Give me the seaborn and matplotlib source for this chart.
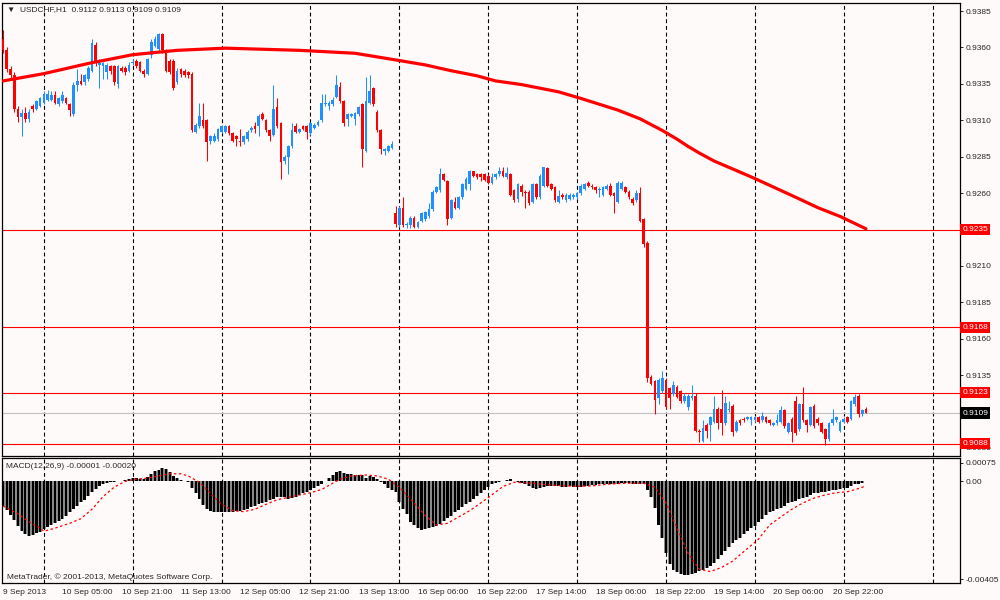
import numpy as np
import pandas as pd
import seaborn as sns
import matplotlib.pyplot as plt

sns.set_style('white')
plt.rcParams['font.family'] = ['Liberation Sans', 'DejaVu Sans']
plt.rcParams['font.size'] = 6

BG = '#FFFAFA'
BULL = '#1E90FF'
BEAR = '#FF0000'

# hourly bars, prices in pips (x 0.0001)
opens = [9366, 9358, 9345, 9341, 9318, 9312, 9315, 9311, 9320, 9318,
         9320, 9322, 9324, 9324, 9327, 9321, 9323, 9325, 9321, 9314,
         9334, 9337, 9336, 9338, 9344, 9362, 9348, 9347, 9343, 9347,
         9347, 9335, 9346, 9346, 9344, 9349, 9351, 9350, 9344, 9342,
         9355, 9361, 9359, 9369, 9358, 9351, 9351, 9336, 9345, 9344,
         9343, 9342, 9302, 9306, 9310, 9310, 9296, 9296, 9297, 9302,
         9302, 9306, 9301, 9299, 9296, 9295, 9297, 9303, 9306, 9306,
         9314, 9310, 9303, 9300, 9319, 9308, 9282, 9285, 9292, 9306,
         9302, 9306, 9306, 9301, 9305, 9307, 9310, 9321, 9320, 9321,
         9326, 9333, 9323, 9311, 9313, 9311, 9314, 9321, 9289, 9322,
         9332, 9316, 9303, 9289, 9289, 9291, 9246, 9238, 9250, 9238,
         9238, 9243, 9237, 9241, 9242, 9244, 9249, 9261, 9262, 9273,
         9268, 9243, 9254, 9250, 9257, 9263, 9266, 9275, 9273, 9273,
         9273, 9272, 9267, 9271, 9273, 9275, 9271, 9273, 9262, 9256,
         9265, 9261, 9261, 9254, 9266, 9257, 9265, 9277, 9266, 9264,
         9254, 9259, 9255, 9256, 9257, 9257, 9260, 9263, 9267, 9265,
         9264, 9262, 9259, 9263, 9265, 9260, 9254, 9263, 9264, 9261,
         9256, 9255, 9260, 9242, 9226, 9134, 9131, 9119, 9124, 9132,
         9126, 9122, 9127, 9124, 9117, 9113, 9119, 9121, 9097, 9090,
         9101, 9101, 9103, 9112, 9112, 9102, 9111, 9114, 9097, 9104,
         9105, 9105, 9104, 9104, 9106, 9104, 9106, 9104, 9101, 9102,
         9103, 9111, 9096, 9105, 9117, 9098, 9115, 9104, 9101, 9114,
         9105, 9102, 9098, 9091, 9102, 9104, 9097, 9103, 9106, 9105,
         9115, 9121, 9108, 9112]
highs = [9372, 9360, 9347, 9343, 9320, 9318, 9319, 9318, 9321, 9324,
         9326, 9330, 9331, 9330, 9330, 9326, 9330, 9326, 9322, 9336,
         9345, 9342, 9342, 9347, 9366, 9364, 9352, 9350, 9349, 9348,
         9348, 9348, 9347, 9347, 9350, 9352, 9352, 9351, 9345, 9353,
         9366, 9368, 9370, 9370, 9359, 9352, 9352, 9346, 9346, 9345,
         9344, 9343, 9308, 9322, 9322, 9311, 9300, 9301, 9305, 9307,
         9307, 9307, 9302, 9300, 9304, 9300, 9303, 9306, 9309, 9314,
         9316, 9311, 9304, 9334, 9325, 9309, 9286, 9293, 9308, 9308,
         9305, 9307, 9307, 9309, 9308, 9310, 9328, 9328, 9323, 9326,
         9341, 9336, 9324, 9315, 9315, 9316, 9320, 9322, 9340, 9341,
         9333, 9317, 9304, 9291, 9293, 9296, 9251, 9251, 9257, 9240,
         9244, 9244, 9241, 9247, 9248, 9253, 9262, 9265, 9277, 9274,
         9269, 9256, 9257, 9258, 9267, 9271, 9276, 9275, 9274, 9274,
         9274, 9273, 9274, 9274, 9278, 9278, 9278, 9274, 9263, 9267,
         9266, 9262, 9262, 9267, 9267, 9273, 9278, 9278, 9267, 9265,
         9262, 9260, 9260, 9260, 9260, 9261, 9266, 9267, 9268, 9266,
         9265, 9264, 9265, 9266, 9267, 9261, 9268, 9268, 9265, 9262,
         9257, 9262, 9264, 9243, 9227, 9135, 9132, 9133, 9138, 9133,
         9127, 9131, 9128, 9125, 9123, 9122, 9128, 9123, 9098, 9104,
         9102, 9107, 9121, 9113, 9125, 9121, 9117, 9115, 9104, 9105,
         9106, 9107, 9107, 9107, 9107, 9110, 9107, 9105, 9103, 9108,
         9114, 9112, 9103, 9106, 9121, 9116, 9127, 9105, 9114, 9115,
         9106, 9103, 9099, 9103, 9112, 9107, 9104, 9106, 9107, 9118,
         9122, 9122, 9112, 9113]
lows = [9356, 9343, 9339, 9316, 9309, 9299, 9309, 9309, 9316, 9317,
        9319, 9321, 9323, 9323, 9321, 9320, 9322, 9321, 9313, 9313,
        9330, 9334, 9334, 9337, 9343, 9347, 9332, 9338, 9338, 9342,
        9334, 9332, 9343, 9341, 9343, 9348, 9346, 9343, 9340, 9341,
        9353, 9360, 9357, 9356, 9343, 9342, 9331, 9335, 9340, 9340,
        9339, 9302, 9301, 9305, 9305, 9282, 9294, 9295, 9296, 9301,
        9301, 9300, 9295, 9292, 9292, 9294, 9296, 9302, 9301, 9299,
        9310, 9302, 9296, 9299, 9305, 9270, 9280, 9273, 9291, 9301,
        9301, 9303, 9297, 9300, 9304, 9306, 9309, 9320, 9317, 9320,
        9325, 9322, 9306, 9306, 9312, 9307, 9313, 9278, 9288, 9321,
        9320, 9302, 9287, 9286, 9288, 9290, 9237, 9237, 9237, 9236,
        9236, 9236, 9236, 9240, 9241, 9243, 9248, 9260, 9261, 9268,
        9238, 9242, 9249, 9249, 9256, 9262, 9262, 9271, 9270, 9268,
        9268, 9266, 9266, 9270, 9272, 9271, 9270, 9258, 9254, 9254,
        9258, 9250, 9252, 9253, 9256, 9256, 9264, 9264, 9262, 9254,
        9253, 9256, 9254, 9255, 9256, 9256, 9259, 9262, 9264, 9263,
        9260, 9257, 9258, 9262, 9258, 9246, 9253, 9262, 9260, 9256,
        9252, 9254, 9240, 9223, 9130, 9128, 9108, 9115, 9123, 9112,
        9112, 9121, 9119, 9116, 9116, 9111, 9118, 9096, 9089, 9089,
        9092, 9090, 9102, 9098, 9094, 9101, 9110, 9093, 9096, 9101,
        9103, 9104, 9101, 9103, 9102, 9103, 9102, 9101, 9100, 9101,
        9102, 9099, 9095, 9089, 9094, 9097, 9103, 9096, 9100, 9099,
        9101, 9095, 9087, 9090, 9101, 9103, 9096, 9102, 9102, 9104,
        9114, 9106, 9107, 9109]
closes = [9358, 9345, 9341, 9318, 9312, 9315, 9311, 9316, 9318, 9323,
          9325, 9328, 9328, 9327, 9322, 9325, 9327, 9322, 9317, 9334,
          9337, 9335, 9341, 9346, 9363, 9349, 9349, 9349, 9348, 9344,
          9336, 9347, 9344, 9343, 9348, 9350, 9347, 9344, 9342, 9352,
          9364, 9366, 9369, 9358, 9344, 9343, 9332, 9344, 9342, 9341,
          9341, 9303, 9307, 9313, 9306, 9295, 9299, 9299, 9304, 9306,
          9306, 9301, 9296, 9297, 9295, 9299, 9302, 9305, 9304, 9313,
          9311, 9303, 9299, 9318, 9306, 9281, 9285, 9292, 9303, 9302,
          9304, 9304, 9302, 9308, 9307, 9309, 9322, 9322, 9322, 9324,
          9334, 9323, 9308, 9314, 9314, 9315, 9319, 9290, 9323, 9330,
          9321, 9303, 9290, 9290, 9292, 9294, 9239, 9250, 9238, 9239,
          9243, 9237, 9240, 9246, 9247, 9249, 9261, 9264, 9273, 9269,
          9242, 9255, 9250, 9257, 9266, 9270, 9275, 9272, 9271, 9271,
          9269, 9267, 9271, 9273, 9275, 9272, 9274, 9259, 9255, 9266,
          9261, 9260, 9253, 9266, 9257, 9272, 9278, 9265, 9263, 9255,
          9258, 9257, 9259, 9259, 9259, 9260, 9265, 9266, 9265, 9264,
          9262, 9263, 9264, 9265, 9259, 9258, 9267, 9267, 9261, 9257,
          9253, 9260, 9241, 9225, 9133, 9129, 9118, 9132, 9133, 9113,
          9119, 9128, 9120, 9117, 9121, 9121, 9121, 9097, 9096, 9099,
          9097, 9106, 9112, 9102, 9102, 9116, 9112, 9096, 9103, 9102,
          9104, 9106, 9106, 9106, 9103, 9107, 9103, 9102, 9102, 9104,
          9111, 9100, 9102, 9096, 9095, 9115, 9104, 9101, 9113, 9100,
          9102, 9096, 9091, 9102, 9105, 9106, 9103, 9105, 9103, 9117,
          9120, 9108, 9111, 9109]

# moving average read at a few bars
ma_bars = [0, 11, 23, 35, 47, 60, 80, 95, 107, 114, 121, 128, 133, 140,
           145, 150, 156, 161, 166, 172, 175, 178, 182, 185, 188, 192,
           198, 203, 209, 215, 220, 226, 233]
ma_vals = [9337, 9342, 9349, 9355, 9358, 9359.5, 9358, 9356, 9351, 9348,
           9344, 9340.5, 9337, 9334.5, 9332, 9329.5, 9325, 9321, 9317,
           9311, 9307, 9303, 9297, 9292, 9287.5, 9282, 9275.5, 9270,
           9263, 9256, 9250, 9244, 9235.5]

# MACD histogram (x 0.00001), one value per bar
macd = [-103, -121, -139, -161, -187, -204, -217, -226, -222, -216,
        -208, -198, -189, -179, -172, -163, -155, -142, -129, -116,
        -103, -87, -77, -61, -44, -33, -22, -14, -9, -5,
        -4, -1, 1, 4, 8, 14, 14, 9, 9, 17,
        30, 40, 47, 53, 48, 38, 22, 12, 6, 1,
        -4, -27, -51, -74, -100, -116, -125, -129, -129, -129,
        -129, -126, -126, -125, -124, -121, -114, -107, -101, -96,
        -91, -85, -78, -72, -66, -64, -66, -74, -69, -64,
        -57, -51, -46, -38, -30, -22, -12, -1, 12, 23,
        38, 43, 35, 31, 30, 27, 26, 23, 14, 21,
        17, 8, -5, -14, -27, -38, -46, -87, -116, -135,
        -168, -183, -194, -200, -198, -194, -190, -185, -177, -165,
        -152, -142, -129, -118, -108, -96, -86, -74, -61, -49,
        -35, -25, -14, -7, -3, -1, 3, 8, 1, -3,
        -8, -14, -22, -30, -31, -27, -25, -22, -22, -22,
        -22, -23, -25, -22, -23, -25, -25, -22, -20, -17,
        -16, -14, -13, -12, -12, -13, -14, -9, -9, -9,
        -12, -12, -13, -14, -35, -64, -109, -181, -233, -298,
        -343, -365, -376, -382, -386, -386, -382, -378, -372, -365,
        -360, -350, -337, -321, -304, -290, -272, -256, -242, -233,
        -220, -207, -194, -185, -170, -155, -139, -129, -122, -116,
        -111, -103, -92, -87, -81, -74, -69, -64, -56, -51,
        -48, -46, -44, -40, -38, -35, -33, -30, -27, -21,
        -14, -12, -7, -1]

# signal line read at a few bars (x 0.00001)
sig_bars = [0, 4, 7, 10, 11, 14, 18, 21, 24, 27, 30, 33, 36, 39, 42, 45, 48,
            50, 53, 56, 59, 62, 65, 68, 71, 74, 79, 83, 86, 89, 91, 94, 98,
            101, 104, 107, 111, 114, 117, 120, 123, 126, 129, 132, 135, 138,
            143, 146, 150, 155, 159, 164, 168, 173, 176, 179, 182, 185, 188,
            191, 194, 197, 200, 204, 207, 210, 213, 216, 219, 222, 225, 228,
            231, 233]
sig_vals = [-103, -135, -168, -194, -207, -194, -174, -155, -116, -64,
            -25, -1, 8, 12, 21, 30, 30, 21, -5, -51,
            -96, -122, -126, -116, -96, -77, -61, -48, -35, -9,
            8, 21, 25, 21, 8, -25, -90, -142, -181, -174,
            -148, -122, -90, -57, -22, -5, -9, -14, -18, -22,
            -20, -12, -9, -9, -25, -90, -194, -298, -363, -373,
            -356, -330, -291, -239, -181, -148, -116, -90, -70, -57,
            -48, -44, -31, -20]

levels_red = [0.9235, 0.9168, 0.9123, 0.9088]
bid = 0.9109
price_ticks = [0.9385, 0.9360, 0.9335, 0.9310, 0.9285, 0.9260, 0.9235,
               0.9210, 0.9185, 0.9160, 0.9135, 0.9110, 0.9085]
hidden_ticks = [0.9235, 0.9110]  # sit under the level boxes
time_labels = ['9 Sep 2013', '10 Sep 05:00', '10 Sep 21:00', '11 Sep 13:00',
               '12 Sep 05:00', '12 Sep 21:00', '13 Sep 13:00', '16 Sep 06:00',
               '16 Sep 22:00', '17 Sep 14:00', '18 Sep 06:00', '18 Sep 22:00',
               '19 Sep 14:00', '20 Sep 06:00', '20 Sep 22:00']
day_lines = list(range(11, 258, 24))

df = pd.DataFrame({'open': opens, 'high': highs, 'low': lows, 'close': closes}) / 10000
df['bar'] = np.arange(len(df))
df['color'] = np.where(df['close'] >= df['open'], BULL, BEAR)
df['body'] = (df['close'] - df['open']).abs().clip(lower=0.00005)
df['bottom'] = df[['open', 'close']].min(axis=1)

fig = plt.figure(figsize=(10, 6), dpi=100, facecolor=BG)
ax = fig.add_axes([0.002, 1 - 456 / 600, 0.958, 453 / 600], facecolor=BG)
ax2 = fig.add_axes([0.002, 1 - 583 / 600, 0.958, 125 / 600], facecolor=BG)

xlim = (-0.3, 258.4)

# price panel
for b in day_lines:
    ax.axvline(b, color='black', lw=0.8, ls=(0, (3.5, 2.5)), zorder=1)
for v in levels_red:
    ax.axhline(v, color='red', lw=0.8, zorder=1)
ax.axhline(bid, color='#C0C0C0', lw=0.8, zorder=1)

ax.vlines(df['bar'], df['low'], df['high'], colors=df['color'], lw=0.75, zorder=2)
ax.bar(df['bar'], df['body'], bottom=df['bottom'], width=0.72,
       color=df['color'], linewidth=0, zorder=3)
sns.lineplot(x=ma_bars, y=np.array(ma_vals) / 10000, ax=ax, color='red',
             lw=2.3, zorder=4)

ax.set_xlim(*xlim)
ax.set_ylim(0.90795, 0.93905)
ax.set_xticks([])
ax.yaxis.tick_right()
ax.set_yticks(price_ticks)
ax.set_yticklabels(['' if t in hidden_ticks else f'{t:.4f}' for t in price_ticks])
ax.tick_params(axis='y', direction='out', length=2.5, width=0.7, pad=1.5, labelsize=6)

tr = ax.get_yaxis_transform()
for v in levels_red:
    ax.text(1.0025, v, f'{v:.4f}', transform=tr, color='white', fontsize=6,
            va='center', ha='left', clip_on=False, zorder=6,
            bbox=dict(boxstyle='square,pad=0.25', fc='red', ec='none'))
ax.text(1.0025, bid, f'{bid:.4f}', transform=tr, color='white', fontsize=6,
        va='center', ha='left', clip_on=False, zorder=6,
        bbox=dict(boxstyle='square,pad=0.25', fc='black', ec='none'))

# MACD panel
for b in day_lines:
    ax2.axvline(b, color='black', lw=0.8, ls=(0, (3.5, 2.5)), zorder=1)
hist = np.array(macd) / 100000
ax2.bar(df['bar'], hist, width=1.0, color='#8a8a8a', linewidth=0, zorder=2)
ax2.bar(df['bar'], hist, width=0.6, color='black', linewidth=0, zorder=3)
sns.lineplot(x=sig_bars, y=np.array(sig_vals) / 100000, ax=ax2, color='red',
             lw=0.9, linestyle=(0, (2, 2)), zorder=4)
ax2.set_xlim(*xlim)
ax2.set_ylim(-0.00420, 0.00095)
ax2.yaxis.tick_right()
ax2.set_yticks([0.00075, 0.0, -0.00405])
ax2.set_yticklabels(['0.00075', '0.00', '-0.00405'])
ax2.tick_params(axis='y', direction='out', length=2.5, width=0.7, pad=1.5, labelsize=6)
ax2.set_xticks(np.arange(0, 16 * len(time_labels), 16))
ax2.set_xticklabels(time_labels)
ax2.tick_params(axis='x', direction='out', length=3, width=0.7, pad=1, labelsize=6)
for lbl in ax2.get_xticklabels():
    lbl.set_horizontalalignment('left')

for a in (ax, ax2):
    for s in a.spines.values():
        s.set_color('black')
        s.set_linewidth(0.9)
    a.set_xlabel('')
    a.set_ylabel('')

fig.text(7 / 1000, 1 - 10 / 600, '\u25bc  USDCHF,H1  0.9112 0.9113 0.9109 0.9109',
         fontsize=6, va='center', ha='left')
fig.text(6 / 1000, 1 - 467 / 600, 'MACD(12,26,9) -0.00001 -0.00020',
         fontsize=6, va='center', ha='left')
fig.text(7 / 1000, 1 - 577 / 600, 'MetaTrader, \u00a9 2001-2013, MetaQuotes Software Corp.',
         fontsize=6, va='center', ha='left')

fig.savefig('out.png', dpi=100, facecolor=BG)
